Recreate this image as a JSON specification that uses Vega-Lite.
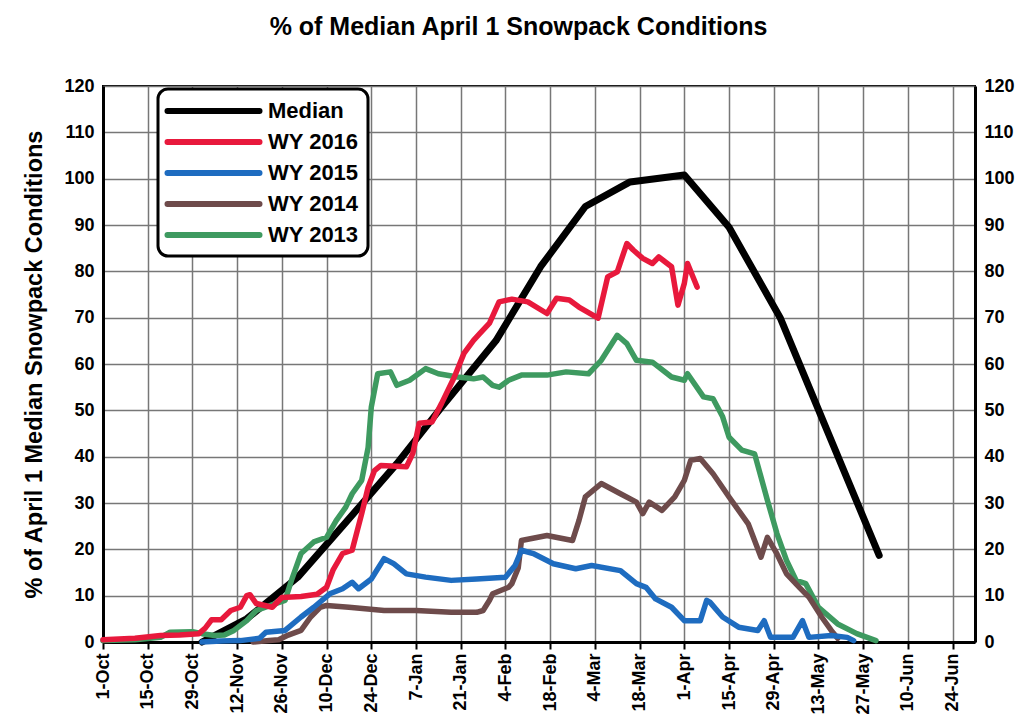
{
  "$schema": "https://vega.github.io/schema/vega-lite/v6.json",
  "width": 872,
  "height": 556,
  "autosize": {"type": "none"},
  "padding": {"left": 103, "top": 86, "right": 49, "bottom": 80},
  "background": "white",
  "title": {
    "text": "% of Median April 1 Snowpack Conditions",
    "font": "Liberation Sans",
    "fontSize": 25,
    "fontWeight": "bold",
    "color": "black",
    "anchor": "middle",
    "frame": "bounds",
    "offset": 37
  },
  "config": {
    "view": {"stroke": "black", "strokeWidth": 2},
    "axis": {
      "labelFont": "Liberation Sans",
      "labelFontSize": 18,
      "labelFontWeight": "bold",
      "labelColor": "black",
      "titleFont": "Liberation Sans",
      "titleFontWeight": "bold",
      "titleColor": "black",
      "domainColor": "black",
      "domainWidth": 3,
      "tickColor": "black",
      "tickWidth": 2,
      "gridColor": "#777777",
      "gridWidth": 1.5,
      "gridOpacity": 1
    },
    "legend": {
      "labelFont": "Liberation Sans",
      "labelFontSize": 22,
      "labelFontWeight": "bold",
      "labelColor": "black"
    }
  },
  "data": {
    "values": [
      {"series": "Median", "day": 31, "value": 0},
      {"series": "Median", "day": 45, "value": 5},
      {"series": "Median", "day": 61, "value": 14},
      {"series": "Median", "day": 75, "value": 25},
      {"series": "Median", "day": 92, "value": 38.5},
      {"series": "Median", "day": 106, "value": 50.7},
      {"series": "Median", "day": 123, "value": 65},
      {"series": "Median", "day": 137, "value": 81},
      {"series": "Median", "day": 151, "value": 94},
      {"series": "Median", "day": 165, "value": 99.3},
      {"series": "Median", "day": 182, "value": 100.8},
      {"series": "Median", "day": 196, "value": 89.5},
      {"series": "Median", "day": 212, "value": 70},
      {"series": "Median", "day": 226, "value": 46.8},
      {"series": "Median", "day": 243, "value": 18.7},

      {"series": "WY 2013", "day": 0, "value": 0.3},
      {"series": "WY 2013", "day": 10, "value": 0.5},
      {"series": "WY 2013", "day": 18, "value": 1},
      {"series": "WY 2013", "day": 21, "value": 2.1},
      {"series": "WY 2013", "day": 28, "value": 2.2},
      {"series": "WY 2013", "day": 31, "value": 1.8},
      {"series": "WY 2013", "day": 35, "value": 1.4},
      {"series": "WY 2013", "day": 38, "value": 1.5},
      {"series": "WY 2013", "day": 41, "value": 2.5},
      {"series": "WY 2013", "day": 45, "value": 4.6},
      {"series": "WY 2013", "day": 48, "value": 6.8},
      {"series": "WY 2013", "day": 54, "value": 8.3},
      {"series": "WY 2013", "day": 57, "value": 9},
      {"series": "WY 2013", "day": 59, "value": 13.3},
      {"series": "WY 2013", "day": 62, "value": 19.1},
      {"series": "WY 2013", "day": 66, "value": 21.6},
      {"series": "WY 2013", "day": 70, "value": 22.6},
      {"series": "WY 2013", "day": 73, "value": 26.2},
      {"series": "WY 2013", "day": 76, "value": 29.1},
      {"series": "WY 2013", "day": 78, "value": 32},
      {"series": "WY 2013", "day": 81, "value": 34.9},
      {"series": "WY 2013", "day": 83, "value": 42},
      {"series": "WY 2013", "day": 84, "value": 50.7},
      {"series": "WY 2013", "day": 86, "value": 57.9},
      {"series": "WY 2013", "day": 90, "value": 58.3},
      {"series": "WY 2013", "day": 92, "value": 55.4},
      {"series": "WY 2013", "day": 96, "value": 56.5},
      {"series": "WY 2013", "day": 101, "value": 59},
      {"series": "WY 2013", "day": 105, "value": 57.9},
      {"series": "WY 2013", "day": 111, "value": 57.2},
      {"series": "WY 2013", "day": 116, "value": 56.8},
      {"series": "WY 2013", "day": 119, "value": 57.2},
      {"series": "WY 2013", "day": 122, "value": 55.4},
      {"series": "WY 2013", "day": 124, "value": 55},
      {"series": "WY 2013", "day": 127, "value": 56.5},
      {"series": "WY 2013", "day": 131, "value": 57.6},
      {"series": "WY 2013", "day": 139, "value": 57.6},
      {"series": "WY 2013", "day": 145, "value": 58.3},
      {"series": "WY 2013", "day": 152, "value": 57.9},
      {"series": "WY 2013", "day": 156, "value": 60.8},
      {"series": "WY 2013", "day": 161, "value": 66.2},
      {"series": "WY 2013", "day": 164, "value": 64.4},
      {"series": "WY 2013", "day": 167, "value": 60.8},
      {"series": "WY 2013", "day": 172, "value": 60.4},
      {"series": "WY 2013", "day": 178, "value": 57.2},
      {"series": "WY 2013", "day": 182, "value": 56.5},
      {"series": "WY 2013", "day": 183, "value": 57.9},
      {"series": "WY 2013", "day": 188, "value": 52.9},
      {"series": "WY 2013", "day": 191, "value": 52.5},
      {"series": "WY 2013", "day": 194, "value": 48.6},
      {"series": "WY 2013", "day": 196, "value": 44.2},
      {"series": "WY 2013", "day": 200, "value": 41.4},
      {"series": "WY 2013", "day": 204, "value": 40.6},
      {"series": "WY 2013", "day": 206, "value": 35.6},
      {"series": "WY 2013", "day": 208, "value": 30.6},
      {"series": "WY 2013", "day": 211, "value": 23.4},
      {"series": "WY 2013", "day": 214, "value": 17.6},
      {"series": "WY 2013", "day": 217, "value": 13.3},
      {"series": "WY 2013", "day": 220, "value": 12.6},
      {"series": "WY 2013", "day": 224, "value": 7.5},
      {"series": "WY 2013", "day": 230, "value": 3.9},
      {"series": "WY 2013", "day": 236, "value": 1.8},
      {"series": "WY 2013", "day": 242, "value": 0.3},

      {"series": "WY 2014", "day": 47, "value": 0},
      {"series": "WY 2014", "day": 52, "value": 0.3},
      {"series": "WY 2014", "day": 55, "value": 0.5},
      {"series": "WY 2014", "day": 58, "value": 1.5},
      {"series": "WY 2014", "day": 62, "value": 2.5},
      {"series": "WY 2014", "day": 65, "value": 5.4},
      {"series": "WY 2014", "day": 68, "value": 7.5},
      {"series": "WY 2014", "day": 70, "value": 7.9},
      {"series": "WY 2014", "day": 77, "value": 7.5},
      {"series": "WY 2014", "day": 88, "value": 6.8},
      {"series": "WY 2014", "day": 98, "value": 6.8},
      {"series": "WY 2014", "day": 109, "value": 6.4},
      {"series": "WY 2014", "day": 117, "value": 6.4},
      {"series": "WY 2014", "day": 119, "value": 6.8},
      {"series": "WY 2014", "day": 121, "value": 9},
      {"series": "WY 2014", "day": 122, "value": 10.4},
      {"series": "WY 2014", "day": 127, "value": 11.8},
      {"series": "WY 2014", "day": 128, "value": 12.6},
      {"series": "WY 2014", "day": 130, "value": 16},
      {"series": "WY 2014", "day": 131, "value": 21.9},
      {"series": "WY 2014", "day": 139, "value": 23},
      {"series": "WY 2014", "day": 147, "value": 21.9},
      {"series": "WY 2014", "day": 149, "value": 26.2},
      {"series": "WY 2014", "day": 151, "value": 31.3},
      {"series": "WY 2014", "day": 156, "value": 34.2},
      {"series": "WY 2014", "day": 162, "value": 32},
      {"series": "WY 2014", "day": 167, "value": 30.2},
      {"series": "WY 2014", "day": 169, "value": 27.7},
      {"series": "WY 2014", "day": 171, "value": 30.2},
      {"series": "WY 2014", "day": 175, "value": 28.4},
      {"series": "WY 2014", "day": 179, "value": 31.3},
      {"series": "WY 2014", "day": 182, "value": 34.9},
      {"series": "WY 2014", "day": 184, "value": 39.2},
      {"series": "WY 2014", "day": 187, "value": 39.6},
      {"series": "WY 2014", "day": 191, "value": 36.3},
      {"series": "WY 2014", "day": 196, "value": 31.3},
      {"series": "WY 2014", "day": 202, "value": 25.5},
      {"series": "WY 2014", "day": 206, "value": 18.3},
      {"series": "WY 2014", "day": 208, "value": 22.6},
      {"series": "WY 2014", "day": 211, "value": 19},
      {"series": "WY 2014", "day": 214, "value": 14.7},
      {"series": "WY 2014", "day": 218, "value": 11.8},
      {"series": "WY 2014", "day": 221, "value": 9.7},
      {"series": "WY 2014", "day": 225, "value": 5.4},
      {"series": "WY 2014", "day": 228, "value": 2.5},
      {"series": "WY 2014", "day": 230, "value": 0.8},

      {"series": "WY 2015", "day": 31, "value": 0},
      {"series": "WY 2015", "day": 37, "value": 0.2},
      {"series": "WY 2015", "day": 43, "value": 0.3},
      {"series": "WY 2015", "day": 49, "value": 0.8},
      {"series": "WY 2015", "day": 51, "value": 2.1},
      {"series": "WY 2015", "day": 57, "value": 2.5},
      {"series": "WY 2015", "day": 62, "value": 5.4},
      {"series": "WY 2015", "day": 66, "value": 7.5},
      {"series": "WY 2015", "day": 71, "value": 10.4},
      {"series": "WY 2015", "day": 75, "value": 11.5},
      {"series": "WY 2015", "day": 78, "value": 12.9},
      {"series": "WY 2015", "day": 80, "value": 11.5},
      {"series": "WY 2015", "day": 84, "value": 13.6},
      {"series": "WY 2015", "day": 88, "value": 18},
      {"series": "WY 2015", "day": 91, "value": 16.9},
      {"series": "WY 2015", "day": 95, "value": 14.7},
      {"series": "WY 2015", "day": 101, "value": 14},
      {"series": "WY 2015", "day": 109, "value": 13.3},
      {"series": "WY 2015", "day": 117, "value": 13.6},
      {"series": "WY 2015", "day": 126, "value": 14},
      {"series": "WY 2015", "day": 129, "value": 16.5},
      {"series": "WY 2015", "day": 131, "value": 19.8},
      {"series": "WY 2015", "day": 135, "value": 19},
      {"series": "WY 2015", "day": 141, "value": 16.9},
      {"series": "WY 2015", "day": 148, "value": 15.8},
      {"series": "WY 2015", "day": 153, "value": 16.5},
      {"series": "WY 2015", "day": 162, "value": 15.4},
      {"series": "WY 2015", "day": 167, "value": 12.6},
      {"series": "WY 2015", "day": 170, "value": 11.8},
      {"series": "WY 2015", "day": 173, "value": 9.3},
      {"series": "WY 2015", "day": 178, "value": 7.5},
      {"series": "WY 2015", "day": 182, "value": 4.6},
      {"series": "WY 2015", "day": 187, "value": 4.6},
      {"series": "WY 2015", "day": 189, "value": 9},
      {"series": "WY 2015", "day": 190, "value": 8.6},
      {"series": "WY 2015", "day": 194, "value": 5.4},
      {"series": "WY 2015", "day": 199, "value": 3.2},
      {"series": "WY 2015", "day": 205, "value": 2.5},
      {"series": "WY 2015", "day": 207, "value": 4.6},
      {"series": "WY 2015", "day": 209, "value": 1},
      {"series": "WY 2015", "day": 216, "value": 1},
      {"series": "WY 2015", "day": 219, "value": 4.6},
      {"series": "WY 2015", "day": 221, "value": 1},
      {"series": "WY 2015", "day": 228, "value": 1.4},
      {"series": "WY 2015", "day": 233, "value": 1},
      {"series": "WY 2015", "day": 235, "value": 0.3},

      {"series": "WY 2016", "day": 0, "value": 0.5},
      {"series": "WY 2016", "day": 10, "value": 0.8},
      {"series": "WY 2016", "day": 18, "value": 1.4},
      {"series": "WY 2016", "day": 24, "value": 1.5},
      {"series": "WY 2016", "day": 30, "value": 1.8},
      {"series": "WY 2016", "day": 32, "value": 3},
      {"series": "WY 2016", "day": 34, "value": 4.8},
      {"series": "WY 2016", "day": 37, "value": 4.8},
      {"series": "WY 2016", "day": 40, "value": 6.8},
      {"series": "WY 2016", "day": 43, "value": 7.5},
      {"series": "WY 2016", "day": 45, "value": 10},
      {"series": "WY 2016", "day": 46, "value": 10.2},
      {"series": "WY 2016", "day": 48, "value": 8.3},
      {"series": "WY 2016", "day": 53, "value": 7.5},
      {"series": "WY 2016", "day": 56, "value": 9.6},
      {"series": "WY 2016", "day": 62, "value": 9.8},
      {"series": "WY 2016", "day": 67, "value": 10.3},
      {"series": "WY 2016", "day": 70, "value": 11.8},
      {"series": "WY 2016", "day": 72, "value": 15.5},
      {"series": "WY 2016", "day": 75, "value": 19.1},
      {"series": "WY 2016", "day": 78, "value": 19.8},
      {"series": "WY 2016", "day": 81, "value": 27.7},
      {"series": "WY 2016", "day": 83, "value": 33.4},
      {"series": "WY 2016", "day": 85, "value": 37},
      {"series": "WY 2016", "day": 87, "value": 38.1},
      {"series": "WY 2016", "day": 95, "value": 37.8},
      {"series": "WY 2016", "day": 97, "value": 40.7},
      {"series": "WY 2016", "day": 99, "value": 47.2},
      {"series": "WY 2016", "day": 103, "value": 47.5},
      {"series": "WY 2016", "day": 106, "value": 51.5},
      {"series": "WY 2016", "day": 110, "value": 57.2},
      {"series": "WY 2016", "day": 113, "value": 62.3},
      {"series": "WY 2016", "day": 116, "value": 65.1},
      {"series": "WY 2016", "day": 118, "value": 66.6},
      {"series": "WY 2016", "day": 121, "value": 68.8},
      {"series": "WY 2016", "day": 124, "value": 73.4},
      {"series": "WY 2016", "day": 128, "value": 74},
      {"series": "WY 2016", "day": 133, "value": 73.4},
      {"series": "WY 2016", "day": 139, "value": 70.9},
      {"series": "WY 2016", "day": 142, "value": 74.2},
      {"series": "WY 2016", "day": 146, "value": 73.8},
      {"series": "WY 2016", "day": 149, "value": 72.3},
      {"series": "WY 2016", "day": 155, "value": 69.9},
      {"series": "WY 2016", "day": 158, "value": 78.8},
      {"series": "WY 2016", "day": 161, "value": 79.9},
      {"series": "WY 2016", "day": 164, "value": 86},
      {"series": "WY 2016", "day": 166, "value": 84.6},
      {"series": "WY 2016", "day": 169, "value": 82.8},
      {"series": "WY 2016", "day": 172, "value": 81.7},
      {"series": "WY 2016", "day": 174, "value": 83.1},
      {"series": "WY 2016", "day": 178, "value": 81},
      {"series": "WY 2016", "day": 180, "value": 72.7},
      {"series": "WY 2016", "day": 182, "value": 77.4},
      {"series": "WY 2016", "day": 183, "value": 81.7},
      {"series": "WY 2016", "day": 186, "value": 76.6}
    ]
  },
  "encoding": {
    "x": {
      "field": "day",
      "type": "quantitative",
      "scale": {"domain": [0, 273], "nice": false, "zero": false},
      "axis": {
        "title": null,
        "values": [0, 14, 28, 42, 56, 70, 84, 98, 112, 126, 140, 154, 168, 182, 196, 210, 224, 238, 252, 266],
        "labelExpr": "['1-Oct','15-Oct','29-Oct','12-Nov','26-Nov','10-Dec','24-Dec','7-Jan','21-Jan','4-Feb','18-Feb','4-Mar','18-Mar','1-Apr','15-Apr','29-Apr','13-May','27-May','10-Jun','24-Jun'][round(datum.value/14)]",
        "labelAngle": -90,
        "labelPadding": 4,
        "tickSize": 7,
        "labelOverlap": false,
        "grid": true
      }
    },
    "color": {
      "field": "series",
      "type": "nominal",
      "scale": {
        "domain": ["Median", "WY 2016", "WY 2015", "WY 2014", "WY 2013"],
        "range": ["#000000", "#e8193c", "#1e6cc0", "#6e4b4b", "#3e9a60"]
      },
      "legend": {
        "title": null,
        "orient": "none",
        "legendX": 55,
        "legendY": 3,
        "symbolType": "M-4.6,0H4.6",
        "symbolSize": 400,
        "symbolStrokeWidth": 6,
        "rowPadding": 6,
        "labelOffset": 4,
        "strokeColor": "black",
        "cornerRadius": 10,
        "fillColor": "white",
        "padding": 9,
        "encode": {
          "legend": {"update": {"strokeWidth": {"value": 3}}},
          "symbols": {"update": {"x": {"value": 46.5}, "strokeCap": {"value": "round"}}},
          "labels": {"update": {"x": {"value": 101}}}
        }
      }
    }
  },
  "layer": [
    {
      "transform": [{"filter": "datum.series == 'Median'"}],
      "mark": {"type": "line", "strokeWidth": 7, "strokeCap": "round", "strokeJoin": "round"},
      "encoding": {
        "y": {
          "field": "value",
          "type": "quantitative",
          "scale": {"domain": [0, 120], "nice": false},
          "axis": {
            "orient": "right",
            "title": null,
            "values": [0, 10, 20, 30, 40, 50, 60, 70, 80, 90, 100, 110, 120],
            "grid": false,
            "ticks": false,
            "labelPadding": 9
          }
        }
      }
    },
    {
      "transform": [{"filter": "datum.series != 'Median'"}],
      "mark": {"type": "line", "strokeWidth": 5.5, "strokeCap": "round", "strokeJoin": "round"},
      "encoding": {
        "y": {
          "field": "value",
          "type": "quantitative",
          "scale": {"domain": [0, 120], "nice": false},
          "axis": {
            "orient": "left",
            "title": "% of April 1 Median Snowpack Conditions",
            "titleFontSize": 23.5,
            "titlePadding": 17,
            "values": [0, 10, 20, 30, 40, 50, 60, 70, 80, 90, 100, 110, 120],
            "grid": true,
            "ticks": false,
            "labelPadding": 9
          }
        }
      }
    }
  ],
  "resolve": {"axis": {"y": "independent"}}
}
